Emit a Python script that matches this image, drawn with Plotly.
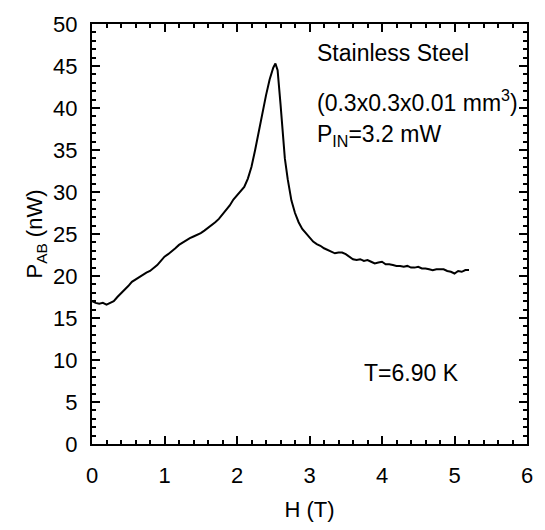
import plotly.graph_objects as go

field_T = [0, 0.05, 0.1, 0.15, 0.2, 0.25, 0.3, 0.35, 0.4, 0.45, 0.5, 0.55, 0.6, 0.65, 0.7, 0.75,
           0.8, 0.85, 0.9, 0.95, 1.0, 1.05, 1.1, 1.15, 1.2, 1.25, 1.3, 1.35, 1.4, 1.45, 1.5, 1.55,
           1.6, 1.65, 1.7, 1.75, 1.8, 1.85, 1.9, 1.95, 2.0, 2.05, 2.1, 2.15, 2.2, 2.25, 2.3, 2.35,
           2.4, 2.45, 2.5, 2.53, 2.56, 2.6, 2.63, 2.66, 2.7, 2.75, 2.8, 2.85, 2.9, 2.95, 3.0, 3.05,
           3.1, 3.15, 3.2, 3.25, 3.3, 3.35, 3.4, 3.45, 3.5, 3.55, 3.6, 3.65, 3.7, 3.75, 3.8, 3.85,
           3.9, 3.95, 4.0, 4.05, 4.1, 4.15, 4.2, 4.25, 4.3, 4.35, 4.4, 4.45, 4.5, 4.55, 4.6, 4.65,
           4.7, 4.75, 4.8, 4.85, 4.9, 4.95, 5.0, 5.05, 5.1, 5.15, 5.2]
power_nW = [17.0, 16.8, 16.7, 16.8, 16.6, 16.8, 17.0, 17.5, 17.9, 18.4, 18.8, 19.3, 19.6, 19.9, 20.1, 20.4,
            20.6, 20.9, 21.3, 21.8, 22.3, 22.6, 22.9, 23.3, 23.7, 24.0, 24.3, 24.5, 24.7, 24.9, 25.1, 25.4,
            25.7, 26.0, 26.4, 26.8, 27.3, 27.8, 28.4, 29.1, 29.6, 30.0, 30.6, 31.6, 33.0, 35.0, 37.2, 39.5,
            41.5, 43.4, 44.8, 45.3, 44.5, 40.5, 37.0, 34.0, 31.5, 29.0, 27.5, 26.4, 25.6, 25.1, 24.5, 24.1,
            23.8, 23.6, 23.3, 23.1, 22.9, 22.7, 22.8, 22.8, 22.6, 22.3, 22.0, 21.9, 22.0, 21.8, 21.9, 21.7,
            21.5, 21.6, 21.7, 21.4, 21.4, 21.3, 21.2, 21.2, 21.1, 21.2, 21.0, 21.0, 21.1, 20.9, 20.9, 20.8,
            20.7, 20.8, 20.8, 20.8, 20.6, 20.5, 20.3, 20.6, 20.5, 20.7, 20.7]

x_major_step = 1
y_major_step = 5

FONT = "Liberation Sans, Arial, sans-serif"

fig = go.Figure()
fig.add_trace(go.Scatter(x=field_T, y=power_nW, mode="lines",
                         line=dict(color="black", width=2), showlegend=False))

axis_common = dict(showline=True, linecolor="black", linewidth=2, mirror="allticks",
                   ticks="inside", ticklen=8, tickwidth=1.5, tickcolor="black",
                   showgrid=False, zeroline=False, tickmode="linear", tick0=0,
                   tickfont=dict(family=FONT, size=22, color="black"))

fig.update_xaxes(range=[0, 6], dtick=x_major_step, ticklabelstandoff=11,
                 minor=dict(ticks="inside", ticklen=4, tickwidth=1.5, tickcolor="black",
                            dtick=0.2, tick0=0, showgrid=False),
                 title=dict(text="H (T)", font=dict(family=FONT, size=22, color="black"), standoff=14),
                 **axis_common)
fig.update_yaxes(range=[0, 50], dtick=y_major_step, ticklabelstandoff=8,
                 minor=dict(ticks="inside", ticklen=4, tickwidth=1.5, tickcolor="black",
                            dtick=1, tick0=0, showgrid=False),
                 title=dict(text="P<sub>AB</sub> (nW)", font=dict(family=FONT, size=22, color="black"), standoff=4),
                 **axis_common)

ann_font = dict(family=FONT, size=23, color="black")
fig.add_annotation(x=3.08, y=46.6, xref="x", yref="y", text="Stainless Steel", showarrow=False,
                   xanchor="left", yanchor="middle", font=ann_font)
fig.add_annotation(x=3.08, y=40.8, xref="x", yref="y", text="(0.3x0.3x0.01 mm<sup>3</sup>)", showarrow=False,
                   xanchor="left", yanchor="middle", font=ann_font)
fig.add_annotation(x=3.08, y=36.75, xref="x", yref="y", text="P<sub>IN</sub>=3.2 mW", showarrow=False,
                   xanchor="left", yanchor="middle", font=ann_font)
fig.add_annotation(x=3.72, y=8.4, xref="x", yref="y", text="T=6.90 K", showarrow=False,
                   xanchor="left", yanchor="middle", font=ann_font)

fig.update_layout(width=545, height=530, margin=dict(l=92, r=14, t=17, b=73),
                  plot_bgcolor="white", paper_bgcolor="white")

fig.write_html("out.html", config={"displayModeBar": False},
               post_script="document.body.style.margin='0';document.body.style.overflow='hidden';")
